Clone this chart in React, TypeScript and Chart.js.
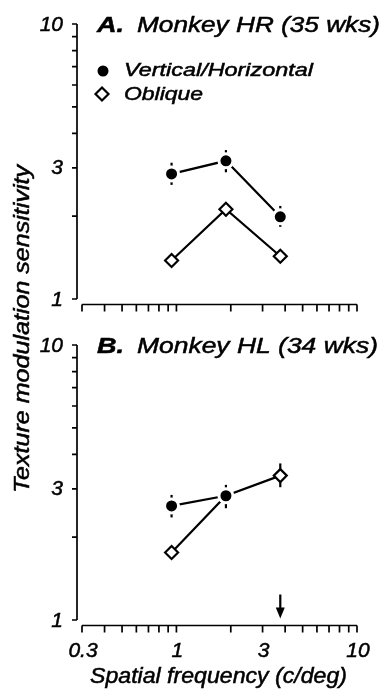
import React, { useEffect, useRef } from 'react';
import { Chart, registerables } from 'chart.js';

Chart.register(...registerables);

// Spatial frequencies tested (c/deg)
const spatialFreq = [0.94, 1.88, 3.76];

// Panel A: Monkey HR (35 wks)
const hrVertHoriz = [2.85, 3.18, 1.99];
const hrVertHorizLow = [2.6, 2.89, 1.83];
const hrVertHorizHigh = [3.13, 3.48, 2.18];
const hrOblique = [1.38, 2.12, 1.43];
const hrObliqueLow = [null, 2.0, null];
const hrObliqueHigh = [null, 2.22, null];

// Panel B: Monkey HL (34 wks)
const hlVertHoriz = [2.6, 2.83, null];
const hlVertHorizLow = [2.36, 2.55, null];
const hlVertHorizHigh = [2.85, 3.1, null];
const hlOblique = [1.76, 2.83, 3.35];
const hlObliqueLow = [null, null, 3.04];
const hlObliqueHigh = [null, null, 3.71];
const hlArrowFreq = 3.76;

// Axis ticks
const yTickValues = [1, 2, 3, 4, 5, 6, 7, 8, 9, 10];
const yTickLabels = [1, 3, 10];
const xTickValues = [0.3, 0.4, 0.5, 0.6, 0.7, 0.8, 0.9, 1, 2, 3, 4, 5, 6, 7, 8, 9, 10];
const xTickLabels = [0.3, 1, 3, 10];

const FONT = '"Liberation Sans", Arial, Helvetica, sans-serif';
const W = 386;
const H = 689;

type Num = number | null;

interface Panel {
  letter: string;
  title: string;
  titleBaseline: number;
  titleWidth: number;
  vh: Num[];
  vhLow: Num[];
  vhHigh: Num[];
  ob: Num[];
  obLow: Num[];
  obHigh: Num[];
  padding: { left: number; right: number; top: number; bottom: number };
  showLegend: boolean;
  showXLabels: boolean;
  arrowFreq: number | null;
  showYTitle: boolean;
}

// Draws text stretched horizontally to a given width, with a light outline for weight.
function fitText(
  ctx: CanvasRenderingContext2D,
  text: string,
  x: number,
  y: number,
  width: number,
  font: string,
  rotate = false
) {
  ctx.save();
  ctx.font = font;
  ctx.fillStyle = '#000';
  ctx.strokeStyle = '#000';
  ctx.lineWidth = 0.5;
  ctx.textAlign = 'left';
  ctx.textBaseline = 'alphabetic';
  const w = ctx.measureText(text).width;
  ctx.translate(x, y);
  if (rotate) ctx.rotate(-Math.PI / 2);
  ctx.scale(width / w, 1);
  ctx.fillText(text, 0, 0);
  ctx.strokeText(text, 0, 0);
  ctx.restore();
}

function tickText(ctx: CanvasRenderingContext2D, text: string, x: number, y: number) {
  ctx.fillText(text, x, y);
  ctx.strokeText(text, x, y);
}

function drawCircle(ctx: CanvasRenderingContext2D, x: number, y: number, r: number) {
  ctx.beginPath();
  ctx.arc(x, y, r, 0, Math.PI * 2);
  ctx.fillStyle = '#000';
  ctx.fill();
}

function drawDiamond(ctx: CanvasRenderingContext2D, x: number, y: number, r: number) {
  ctx.beginPath();
  ctx.moveTo(x - r, y);
  ctx.lineTo(x, y - r);
  ctx.lineTo(x + r, y);
  ctx.lineTo(x, y + r);
  ctx.closePath();
  ctx.fillStyle = '#fff';
  ctx.fill();
  ctx.lineWidth = 2.2;
  ctx.strokeStyle = '#000';
  ctx.stroke();
}

function makeDecor(panel: Panel) {
  return {
    id: 'panelDecor',
    beforeDatasetsDraw(chart: any) {
      const ctx: CanvasRenderingContext2D = chart.ctx;
      const xs = chart.scales.x;
      const ys = chart.scales.y;
      ctx.save();
      ctx.strokeStyle = '#000';
      ctx.lineWidth = 2.2;
      const bars: [Num[], Num[]][] = [
        [panel.vhLow, panel.vhHigh],
        [panel.obLow, panel.obHigh],
      ];
      bars.forEach(([low, high]) => {
        spatialFreq.forEach((f, i) => {
          const lo = low[i];
          const hi = high[i];
          if (lo == null || hi == null) return;
          const px = xs.getPixelForValue(f);
          ctx.beginPath();
          ctx.moveTo(px, ys.getPixelForValue(lo));
          ctx.lineTo(px, ys.getPixelForValue(hi));
          ctx.stroke();
        });
      });
      ctx.restore();
    },
    afterDatasetsDraw(chart: any) {
      const ctx: CanvasRenderingContext2D = chart.ctx;
      const xs = chart.scales.x;
      const ys = chart.scales.y;
      const area = chart.chartArea;
      const yAxisX = area.left - 5;
      const xAxisY = area.bottom + 5.5;

      ctx.save();
      ctx.strokeStyle = '#000';
      ctx.lineWidth = 1.7;

      // y axis
      ctx.beginPath();
      ctx.moveTo(yAxisX, ys.getPixelForValue(10));
      ctx.lineTo(yAxisX, ys.getPixelForValue(1));
      yTickValues.forEach((v) => {
        const py = ys.getPixelForValue(v);
        ctx.moveTo(yAxisX - 5, py);
        ctx.lineTo(yAxisX, py);
      });
      ctx.stroke();

      // x axis
      ctx.beginPath();
      ctx.moveTo(xs.getPixelForValue(0.3), xAxisY);
      ctx.lineTo(xs.getPixelForValue(10), xAxisY);
      xTickValues.forEach((v) => {
        const px = xs.getPixelForValue(v);
        ctx.moveTo(px, xAxisY);
        ctx.lineTo(px, xAxisY + 7);
      });
      ctx.stroke();

      // tick labels
      ctx.fillStyle = '#000';
      ctx.lineWidth = 0.5;
      ctx.font = `italic 21px ${FONT}`;
      ctx.textAlign = 'right';
      ctx.textBaseline = 'alphabetic';
      yTickLabels.forEach((v) => {
        tickText(ctx, String(v), yAxisX - 14, ys.getPixelForValue(v) + 6.5);
      });
      if (panel.showXLabels) {
        ctx.textAlign = 'center';
        xTickLabels.forEach((v) => {
          tickText(ctx, String(v), xs.getPixelForValue(v) + 1, xAxisY + 31);
        });
        fitText(ctx, 'Spatial frequency (c/deg)', 90, 683, 257, `italic 21.5px ${FONT}`);
      }
      ctx.restore();

      // panel title
      fitText(ctx, panel.letter, area.left + 15, panel.titleBaseline, 27, `italic bold 21.5px ${FONT}`);
      fitText(ctx, panel.title, area.left + 55, panel.titleBaseline, panel.titleWidth, `italic 21.5px ${FONT}`);

      if (panel.showLegend) {
        const lx = area.left + 21;
        drawCircle(ctx, lx, area.top + 47, 5.5);
        drawDiamond(ctx, lx - 1, area.top + 70, 6.5);
        fitText(ctx, 'Vertical/Horizontal', area.left + 42, area.top + 51.5, 189, `italic 18.5px ${FONT}`);
        fitText(ctx, 'Oblique', area.left + 42, area.top + 76, 79, `italic 18.5px ${FONT}`);
      }

      if (panel.showYTitle) {
        fitText(ctx, 'Texture modulation sensitivity', 28.5, 493, 328, `italic 21.5px ${FONT}`, true);
      }

      if (panel.arrowFreq != null) {
        const ax = xs.getPixelForValue(panel.arrowFreq);
        const tip = area.bottom - 1.5;
        ctx.save();
        ctx.strokeStyle = '#000';
        ctx.fillStyle = '#000';
        ctx.lineWidth = 2.2;
        ctx.beginPath();
        ctx.moveTo(ax, tip - 24);
        ctx.lineTo(ax, tip - 8);
        ctx.stroke();
        ctx.beginPath();
        ctx.moveTo(ax - 4.5, tip - 11);
        ctx.lineTo(ax + 4.5, tip - 11);
        ctx.lineTo(ax, tip);
        ctx.closePath();
        ctx.fill();
        ctx.restore();
      }
    },
  };
}

function makeConfig(panel: Panel): any {
  const toPoints = (ys: Num[]) => spatialFreq.map((x, i) => ({ x, y: ys[i] }));
  return {
    type: 'line',
    data: {
      datasets: [
        {
          label: 'Vertical/Horizontal',
          data: toPoints(panel.vh),
          borderColor: '#000',
          borderWidth: 2.2,
          pointStyle: 'circle',
          pointRadius: 7,
          pointBackgroundColor: '#000',
          pointBorderColor: '#fff',
          pointBorderWidth: 3,
          spanGaps: false,
        },
        {
          label: 'Oblique',
          data: toPoints(panel.ob),
          borderColor: '#000',
          borderWidth: 2.2,
          pointStyle: 'rectRot',
          pointRadius: 6.5,
          pointBackgroundColor: '#fff',
          pointBorderColor: '#000',
          pointBorderWidth: 2.2,
          spanGaps: false,
        },
      ],
    },
    options: {
      responsive: false,
      maintainAspectRatio: false,
      animation: false,
      layout: { padding: panel.padding },
      scales: {
        x: { type: 'logarithmic', min: 0.3, max: 10, display: false },
        y: { type: 'logarithmic', min: 1, max: 10, display: false },
      },
      plugins: {
        legend: { display: false },
        tooltip: { enabled: false },
        title: { display: false },
      },
    },
    plugins: [makeDecor(panel)],
  };
}

const panelA: Panel = {
  letter: 'A.',
  title: 'Monkey HR (35 wks)',
  titleBaseline: 31.7,
  titleWidth: 243,
  vh: hrVertHoriz,
  vhLow: hrVertHorizLow,
  vhHigh: hrVertHorizHigh,
  ob: hrOblique,
  obLow: hrObliqueLow,
  obHigh: hrObliqueHigh,
  padding: { left: 82, right: 29, top: 24, bottom: H - 299 },
  showLegend: true,
  showXLabels: false,
  arrowFreq: null,
  showYTitle: true,
};

const panelB: Panel = {
  letter: 'B.',
  title: 'Monkey HL (34 wks)',
  titleBaseline: 353,
  titleWidth: 241,
  vh: hlVertHoriz,
  vhLow: hlVertHorizLow,
  vhHigh: hlVertHorizHigh,
  ob: hlOblique,
  obLow: hlObliqueLow,
  obHigh: hlObliqueHigh,
  padding: { left: 82, right: 29, top: 345, bottom: H - 620 },
  showLegend: false,
  showXLabels: true,
  arrowFreq: hlArrowFreq,
  showYTitle: false,
};

function PanelCanvas({ panel }: { panel: Panel }) {
  const ref = useRef<HTMLCanvasElement | null>(null);
  useEffect(() => {
    if (!ref.current) return;
    const chart = new Chart(ref.current, makeConfig(panel));
    return () => chart.destroy();
  }, [panel]);
  return (
    <canvas
      ref={ref}
      width={W}
      height={H}
      style={{ position: 'absolute', left: 0, top: 0, width: W, height: H }}
    />
  );
}

export default function App() {
  return (
    <div
      style={{
        position: 'absolute',
        left: 0,
        top: 0,
        width: W,
        height: H,
        background: '#fff',
        overflow: 'hidden',
      }}
    >
      <PanelCanvas panel={panelA} />
      <PanelCanvas panel={panelB} />
    </div>
  );
}
